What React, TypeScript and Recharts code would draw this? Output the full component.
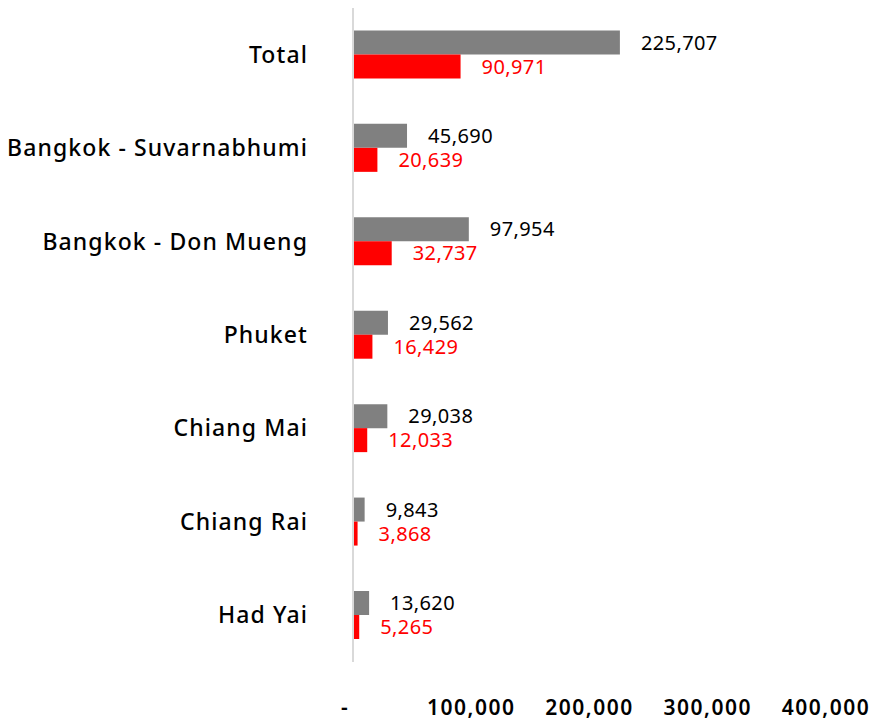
import React from "react";
import { BarChart, Bar, XAxis, YAxis, LabelList } from "recharts";

const categories = ["Total", "Bangkok - Suvarnabhumi", "Bangkok - Don Mueng", "Phuket", "Chiang Mai", "Chiang Rai", "Had Yai"];
const seriesGray = [225707, 45690, 97954, 29562, 29038, 9843, 13620];
const seriesRed = [90971, 20639, 32737, 16429, 12033, 3868, 5265];
const xTicks = [0, 100000, 200000, 300000, 400000];

const data = categories.map((c, i) => ({ name: c, gray: seriesGray[i], red: seriesRed[i] }));

const FONT = "'Noto Sans', sans-serif";
const fmt = (v: number) => v.toLocaleString("en-US");

const XTick = (props: any) => {
  const { x, y, payload } = props;
  const v = payload.value;
  const label = v === 0 ? "-" : fmt(v);
  return (
    <text x={v === 0 ? x - 8 : x} y={y} dy="0.71em" textAnchor="middle" fontFamily={FONT} fontSize={21} fontWeight={600} letterSpacing={1.5} fill="#000">
      {label}
    </text>
  );
};

const YTick = (props: any) => {
  const { x, y, payload } = props;
  return (
    <text x={x} y={y} dy="0.35em" textAnchor="end" fontFamily={FONT} fontSize={23} fontWeight={500} letterSpacing={1.1} fill="#000">
      {payload.value}
    </text>
  );
};

export default function App() {
  return (
    <div style={{ position: "absolute", left: 0, top: 0, background: "#fff" }}>
      <BarChart
        width={875}
        height={721}
        data={data}
        layout="vertical"
        margin={{ top: 8, right: 49, bottom: 29, left: 0 }}
        barCategoryGap="24%"
        barGap={0}
      >
        <XAxis
          type="number"
          domain={[0, 400000]}
          ticks={xTicks}
          axisLine={false}
          tickLine={false}
          tickSize={0}
          tickMargin={38}
          tick={<XTick />}
          interval={0}
          height={30}
        />
        <YAxis
          type="category"
          dataKey="name"
          width={353}
          axisLine={{ stroke: "#d9d9d9", strokeWidth: 2 }}
          tickLine={false}
          tickSize={0}
          tickMargin={45}
          tick={<YTick />}
          interval={0}
        />
        <Bar dataKey="gray" fill="#808080" isAnimationActive={false}>
          <LabelList dataKey="gray" position="right" offset={21} formatter={(v: any) => fmt(v)} fill="#000" fontFamily={FONT} fontSize={20} letterSpacing={0.4} />
        </Bar>
        <Bar dataKey="red" fill="#ff0000" isAnimationActive={false}>
          <LabelList dataKey="red" position="right" offset={21} formatter={(v: any) => fmt(v)} fill="#ff0000" fontFamily={FONT} fontSize={20} letterSpacing={0.4} />
        </Bar>
      </BarChart>
    </div>
  );
}
